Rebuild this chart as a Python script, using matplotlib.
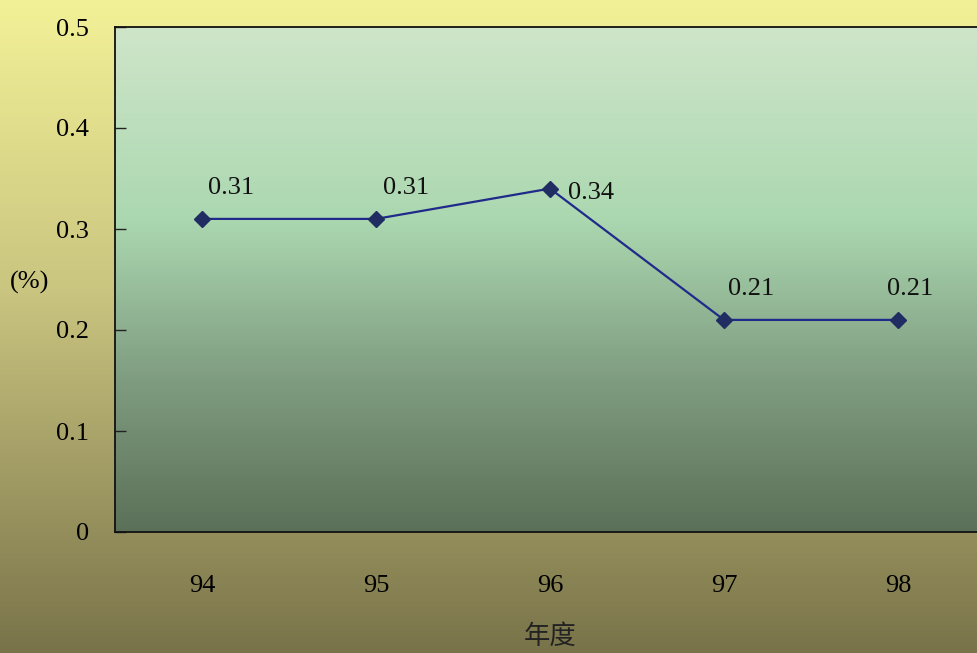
import matplotlib.pyplot as plt
import numpy as np
from matplotlib.colors import LinearSegmentedColormap

years = ["94", "95", "96", "97", "98"]
rates = [0.31, 0.31, 0.34, 0.21, 0.21]
yticks = [0, 0.1, 0.2, 0.3, 0.4, 0.5]
ytick_labels = ["0", "0.1", "0.2", "0.3", "0.4", "0.5"]

serif = ["Liberation Serif", "DejaVu Serif"]
cjk = ["Noto Sans CJK TC", "DejaVu Sans"]

fig = plt.figure(figsize=(9.77, 6.53), dpi=100)

# figure background gradient (pale yellow -> olive)
bg = fig.add_axes([0, 0, 1, 1], zorder=-10)
bg_cmap = LinearSegmentedColormap.from_list(
    "bg", [(0.0, "#f3f197"), (0.45, "#c9c47f"), (1.0, "#79734a")]
)
bg.imshow(np.linspace(0, 1, 256)[:, None], aspect="auto", cmap=bg_cmap,
          extent=[0, 1, 0, 1])
bg.set_axis_off()

ax = fig.add_axes([115 / 977, 121 / 653, 870 / 977, 505 / 653])

# plot area gradient (pale green -> light green -> dark grey green)
ax_cmap = LinearSegmentedColormap.from_list(
    "plot", [(0.0, "#cfe5c9"), (0.38, "#abd8b0"), (0.7, "#7f9c80"), (1.0, "#5b7058")]
)
ax.imshow(np.linspace(0, 1, 256)[:, None], aspect="auto", cmap=ax_cmap,
          extent=[-0.5, 4.5, 0, 0.5], zorder=0)

x = np.arange(len(years))
ax.plot(x, rates, color="#1f2a8a", lw=1.6, zorder=3)
ax.plot(x, rates, ls="none", marker="D", ms=8, color="#1f2d62", zorder=4)

offsets = [(4, 14), (5, 14), (13, -3), (3, 14), (-8, 14)]
for xi, v, (dx, dy) in zip(x, rates, offsets):
    ax.annotate(f"{v:.2f}", (xi, v), xytext=(dx, dy), textcoords="offset points",
                fontsize=19, family=serif, color="#111111",
                ha="left", va="bottom" if dy > 0 else "center")

ax.set_xlim(-0.5, 4.5)
ax.set_ylim(0, 0.5)
ax.set_xticks(x)
ax.set_xticklabels(years, fontsize=19, family=serif)
ax.set_yticks(yticks)
ax.set_yticklabels(ytick_labels, fontsize=19, family=serif)
ax.tick_params(axis="y", direction="in", length=8, width=1, pad=18.5, color="#222222")
ax.tick_params(axis="x", length=0, pad=31)

for s in ax.spines.values():
    s.set_color("#111111")
    s.set_linewidth(1.3)

fig.text(30 / 977, 1 - 282 / 653, "(%)", fontsize=19, family=serif,
         ha="center", va="center")
fig.text(550 / 977, 1 - 636 / 653, "年度", fontsize=19, family=cjk,
         ha="center", va="center", color="#222222")

fig.savefig("out.png", dpi=100)
